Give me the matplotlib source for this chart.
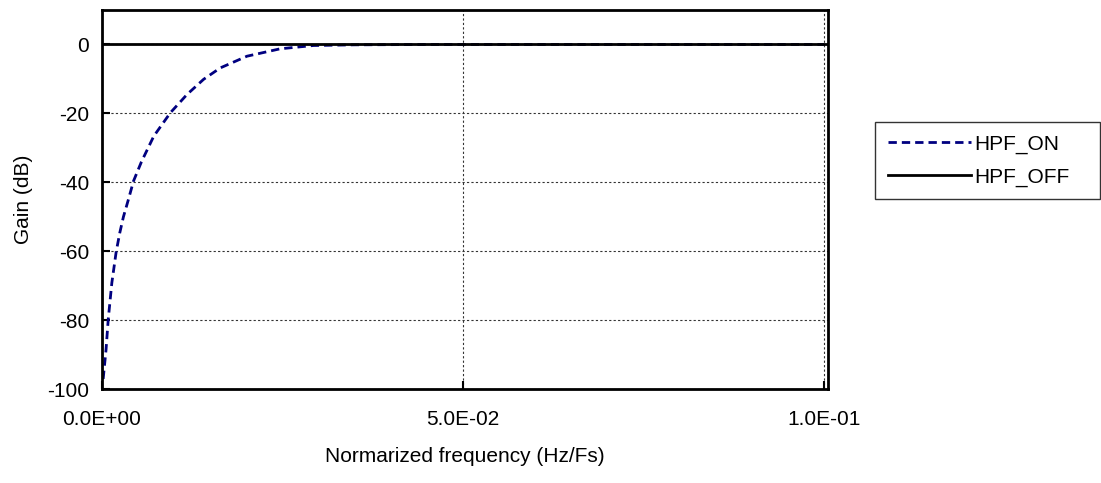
import matplotlib
matplotlib.use('Agg')
import matplotlib.pyplot as plt
from matplotlib.ticker import FuncFormatter

plt.rcParams['font.family'] = ['Liberation Sans', 'DejaVu Sans']
plt.rcParams['axes.unicode_minus'] = False

# HPF_ON response
freq_on = [0.0002, 0.0006, 0.0009, 0.0014, 0.0020, 0.0025, 0.0030, 0.0037, 0.0044,
           0.0055, 0.0072, 0.0095, 0.0118, 0.0141, 0.0164, 0.0201, 0.0247, 0.0293,
           0.0350, 0.0450, 0.0600, 0.1000]
gain_on = [-97.0, -88.4, -79.7, -69.1, -60.1, -54.6, -50.0, -44.9, -39.6,
           -34.0, -26.6, -19.8, -14.5, -10.1, -6.8, -3.4, -1.25, -0.3,
           -0.1, 0.0, 0.0, 0.0]

# HPF_OFF is flat
freq_off = [0.0, 0.1006]
gain_off = [0.0, 0.0]

x_ticks = [0.0, 0.05, 0.1]
y_ticks = [-100, -80, -60, -40, -20, 0]

fig = plt.figure(figsize=(11.01, 4.83), dpi=100)
ax = fig.add_axes([0.0924, 0.194, 0.6599, 0.7853])

ax.plot(freq_on, gain_on, color='#000080', lw=2.0, linestyle=(0, (3, 1.8)), label='HPF_ON')
ax.plot(freq_off, gain_off, color='black', lw=2.0, label='HPF_OFF')

ax.set_xlim(0, 0.10055)
ax.set_ylim(-100, 10)
ax.set_xticks(x_ticks)
ax.set_yticks(y_ticks)
ax.xaxis.set_major_formatter(FuncFormatter(lambda v, p: f'{v:.1E}'))

ax.grid(True, color='#333333', linestyle=(0, (2, 2)), lw=0.8)
for s in ax.spines.values():
    s.set_linewidth(2.0)
ax.tick_params(direction='in', length=6, width=1.5, labelsize=15)
ax.tick_params(axis='x', pad=15)
ax.tick_params(axis='y', pad=9)

ax.set_xlabel('Normarized frequency (Hz/Fs)', fontsize=15, labelpad=13)
ax.set_ylabel('Gain (dB)', fontsize=15, labelpad=10)

# legend box spans 875..1100 px wide, top at ~122 px
leg_top = 1 - 122 / 483
leg = fig.legend(loc='upper left',
                 bbox_to_anchor=(875 / 1101, leg_top - 0.01, 225 / 1101, 0.01),
                 mode='expand', fontsize=15, frameon=True, fancybox=False,
                 handlelength=4.0, handletextpad=0.15, borderpad=0.6,
                 labelspacing=0.65, borderaxespad=0)
leg.get_frame().set_edgecolor('black')
leg.get_frame().set_linewidth(1.0)

fig.savefig('out.png', dpi=100)
